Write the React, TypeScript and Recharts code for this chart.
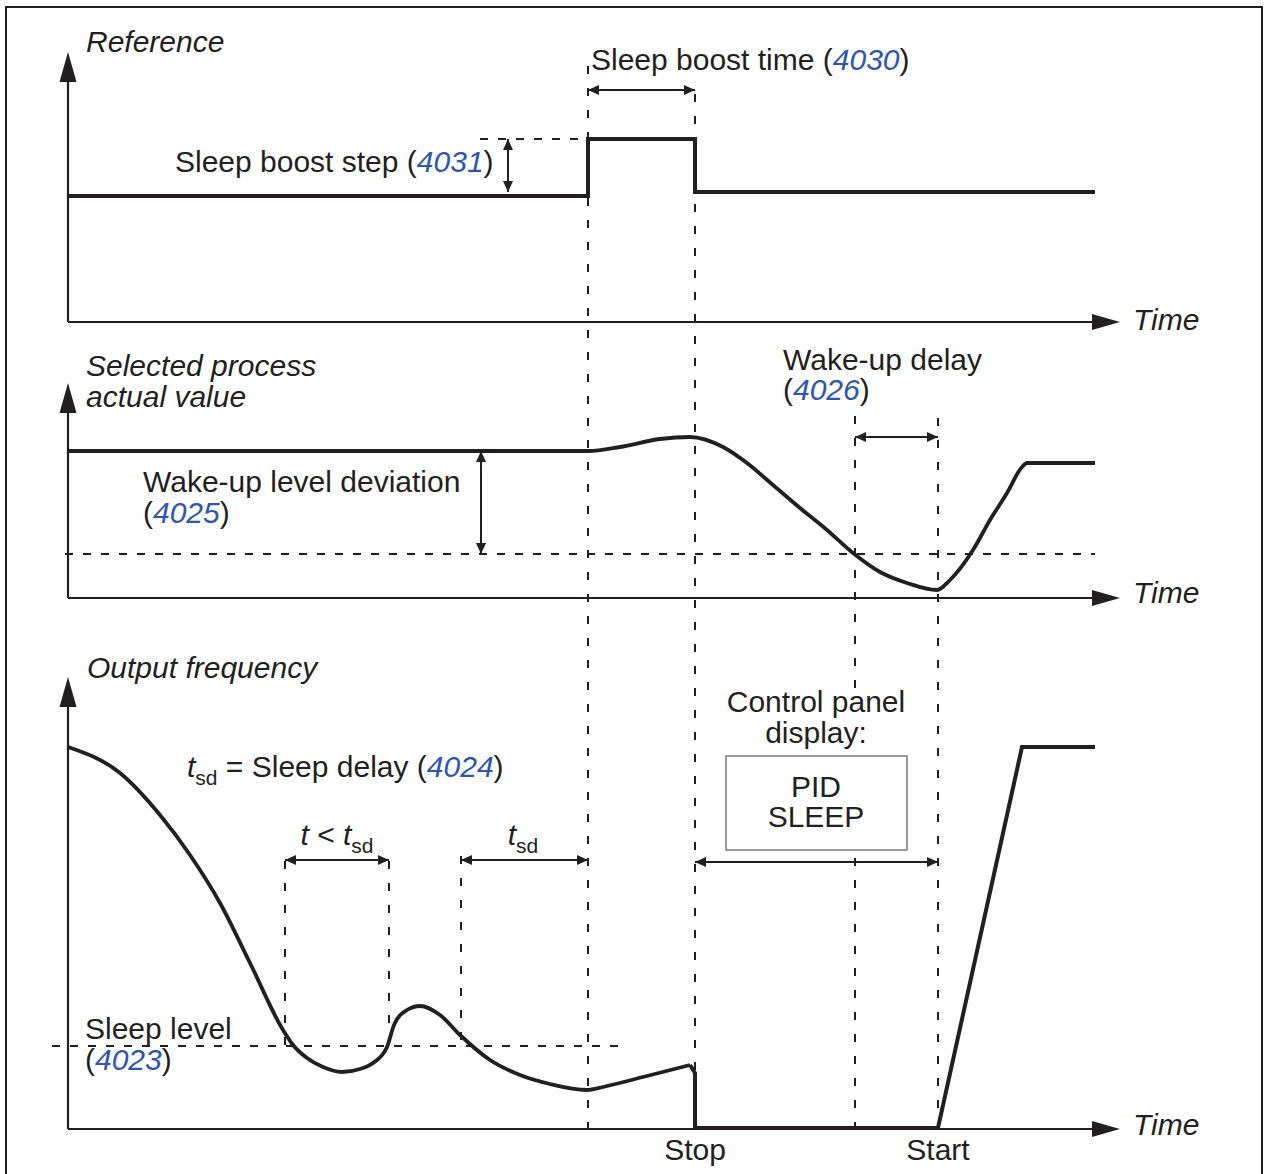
import React from "react";
import {
  ComposedChart,
  Line,
  XAxis,
  YAxis,
  ReferenceLine,
  ReferenceDot,
  ReferenceArea,
} from "recharts";

const INK = "#231f20";
const BLUE = "#2d56b2";
const FONT = "'Liberation Sans', Arial, Helvetica, sans-serif";
const FS = 30;

// time runs from 0 at the vertical axes to the Time arrow tips (~105)
// each panel value is a height above that panel's own time axis

const referenceSignal = [
  { t: 0, v: 12.6 },
  { t: 52, v: 12.6 },
  { t: 52, v: 18.3 },
  { t: 62.7, v: 18.3 },
  { t: 62.7, v: 13.0 },
  { t: 102.7, v: 13.0 },
];

const processSignal = [
  { t: 0, v: 14.7 },
  { t: 52, v: 14.7 },
  { t: 55.2, v: 15.1 },
  { t: 59.2, v: 15.9 },
  { t: 62.2, v: 16.1 },
  { t: 65.5, v: 15.1 },
  { t: 67.9, v: 13.5 },
  { t: 70.5, v: 11.3 },
  { t: 73.2, v: 9.0 },
  { t: 75.9, v: 6.8 },
  { t: 78.5, v: 4.5 },
  { t: 81.2, v: 2.6 },
  { t: 83.9, v: 1.5 },
  { t: 86.9, v: 0.8 },
  { t: 88.2, v: 1.8 },
  { t: 90.5, v: 4.8 },
  { t: 92.2, v: 7.8 },
  { t: 93.9, v: 10.5 },
  { t: 95.4, v: 13.1 },
  { t: 95.9, v: 13.5 },
  { t: 102.7, v: 13.5 },
];

const outputFalling = [
  { t: 0, v: 38.2 },
  { t: 5.2, v: 35.6 },
  { t: 9.2, v: 31.4 },
  { t: 12.2, v: 27.4 },
  { t: 15.2, v: 22.6 },
  { t: 18.2, v: 16.6 },
  { t: 21.5, v: 9.9 },
  { t: 22.5, v: 8.4 },
  { t: 23.9, v: 7.1 },
  { t: 25.5, v: 6.2 },
  { t: 27.4, v: 5.7 },
  { t: 29.2, v: 6.0 },
  { t: 30.5, v: 6.6 },
  { t: 31.9, v: 8.2 },
  { t: 32.6, v: 10.4 },
  { t: 33.9, v: 11.9 },
  { t: 35.2, v: 12.3 },
  { t: 37.2, v: 11.4 },
  { t: 39.2, v: 9.4 },
  { t: 42.2, v: 6.9 },
  { t: 45.2, v: 5.4 },
  { t: 48.2, v: 4.5 },
  { t: 51.9, v: 3.9 },
  { t: 53.5, v: 4.2 },
  { t: 57.5, v: 5.2 },
  { t: 62.2, v: 6.4 },
];

const outputStopStart = [
  { t: 62.2, v: 6.4 },
  { t: 62.7, v: 5.6 },
  { t: 62.7, v: 0.1 },
  { t: 87.0, v: 0.1 },
  { t: 95.4, v: 38.2 },
  { t: 102.7, v: 38.2 },
];

// event times
const boostStart = 52;
const stopTime = 62.7;
const wakeCross = 78.7;
const startTime = 87.0;
const shortRunStart = 21.7;
const shortRunEnd = 32.1;
const sleepDelayStart = 39.3;

// levels (panel relative)
const boostLevel = 18.3;
const afterBoostLevel = 13.0;
const processLevel = 14.7;
const wakeUpLevel = 4.4;
const sleepLevel = 8.3;

const PANEL = { reference: 85.2, process: 57.6, output: 4.5 };
const AXIS_HEIGHT = { reference: 27.0, process: 21.5, output: 45.2 };
const TIME_END = 105.2;

const lift = (s: { t: number; v: number }[], base: number) =>
  s.map((p) => ({ t: p.t, v: p.v + base }));

type Dir = "up" | "down" | "left" | "right";

const head = (dir: Dir, len: number, half: number) => (p: any) => {
  const { cx, cy } = p;
  let pts = "";
  if (dir === "right") pts = `${cx},${cy} ${cx - len},${cy - half} ${cx - len},${cy + half}`;
  if (dir === "left") pts = `${cx},${cy} ${cx + len},${cy - half} ${cx + len},${cy + half}`;
  if (dir === "up") pts = `${cx},${cy} ${cx - half},${cy + len} ${cx + half},${cy + len}`;
  if (dir === "down") pts = `${cx},${cy} ${cx - half},${cy - len} ${cx + half},${cy - len}`;
  return <polygon points={pts} fill={INK} stroke="none" />;
};

const textShape =
  (node: React.ReactNode, anchor: "start" | "middle" = "start") =>
  (p: any) =>
    (
      <text
        x={p.cx}
        y={p.cy}
        textAnchor={anchor}
        fontFamily={FONT}
        fontSize={FS}
        fill={INK}
      >
        {node}
      </text>
    );

const num = (s: string) => (
  <tspan fill={BLUE} fontStyle="italic">
    {s}
  </tspan>
);

const sub = (s: string) => (
  <tspan fontSize={21} dy={8}>
    {s}
  </tspan>
);

const labels: { t: number; v: number; anchor?: "start" | "middle"; node: React.ReactNode }[] = [
  { t: 1.8, v: 112.2, node: <tspan fontStyle="italic">Reference</tspan> },
  { t: 52.3, v: 110.4, node: <>Sleep boost time ({num("4030")})</> },
  { t: 10.7, v: 100.2, node: <>Sleep boost step ({num("4031")})</> },
  { t: 106.5, v: 84.4, node: <tspan fontStyle="italic">Time</tspan> },
  { t: 1.8, v: 79.8, node: <tspan fontStyle="italic">Selected process</tspan> },
  { t: 1.8, v: 76.7, node: <tspan fontStyle="italic">actual value</tspan> },
  { t: 7.5, v: 68.2, node: <>Wake-up level deviation</> },
  { t: 7.5, v: 65.1, node: <>({num("4025")})</> },
  { t: 71.5, v: 80.4, node: <>Wake-up delay</> },
  { t: 71.5, v: 77.4, node: <>({num("4026")})</> },
  { t: 106.5, v: 57.1, node: <tspan fontStyle="italic">Time</tspan> },
  { t: 1.9, v: 49.6, node: <tspan fontStyle="italic">Output frequency</tspan> },
  {
    t: 11.9,
    v: 39.7,
    node: (
      <>
        <tspan fontStyle="italic">t</tspan>
        {sub("sd")}
        <tspan dy={-8}> = Sleep delay (</tspan>
        {num("4024")})
      </>
    ),
  },
  {
    t: 26.9,
    v: 32.9,
    anchor: "middle",
    node: (
      <>
        <tspan fontStyle="italic">t</tspan> &lt; <tspan fontStyle="italic">t</tspan>
        {sub("sd")}
      </>
    ),
  },
  {
    t: 45.5,
    v: 32.9,
    anchor: "middle",
    node: (
      <>
        <tspan fontStyle="italic">t</tspan>
        {sub("sd")}
      </>
    ),
  },
  { t: 74.8, v: 46.2, anchor: "middle", node: <>Control panel</> },
  { t: 74.8, v: 43.1, anchor: "middle", node: <>display:</> },
  { t: 74.8, v: 37.7, anchor: "middle", node: <>PID</> },
  { t: 74.8, v: 34.7, anchor: "middle", node: <>SLEEP</> },
  { t: 1.7, v: 13.5, node: <>Sleep level</> },
  { t: 1.7, v: 10.4, node: <>({num("4023")})</> },
  { t: 62.7, v: 1.4, anchor: "middle", node: <>Stop</> },
  { t: 87.0, v: 1.4, anchor: "middle", node: <>Start</> },
  { t: 106.5, v: 3.9, node: <tspan fontStyle="italic">Time</tspan> },
];

// vertical dashed guides [t, from, to] in chart units
const guides: [number, number, number][] = [
  [boostStart, 4.4, 111.2],
  [stopTime, 10.4, 109.2],
  [wakeCross, 48.6, 76.4],
  [wakeCross, 4.4, 32.4],
  [startTime, 4.4, 76.4],
  [shortRunStart, 12.9, 32.6],
  [shortRunEnd, 12.9, 32.6],
  [sleepDelayStart, 13.4, 32.4],
];

// horizontal dashed levels [from, to, level]
const levels: [number, number, number][] = [
  [41.2, boostStart, PANEL.reference + boostLevel],
  [-0.3, 102.7, PANEL.process + wakeUpLevel],
  [-1.6, 55.2, PANEL.output + sleepLevel],
];

// dimension arrows: horizontal [from, to, y] and vertical [t, from, to]
const hArrows: [number, number, number][] = [
  [boostStart, stopTime, 108.4],
  [wakeCross, startTime, 73.7],
  [shortRunStart, shortRunEnd, 31.4],
  [sleepDelayStart, boostStart, 31.4],
  [stopTime, startTime, 31.2],
];
const vArrows: [number, number, number][] = [
  [44, PANEL.reference + afterBoostLevel, PANEL.reference + boostLevel],
  [41.3, PANEL.process + wakeUpLevel, PANEL.process + processLevel],
];

export default function App() {
  const panels = [PANEL.reference, PANEL.process, PANEL.output];
  const heights = [AXIS_HEIGHT.reference, AXIS_HEIGHT.process, AXIS_HEIGHT.output];
  const dash = { stroke: INK, strokeWidth: 2, ifOverflow: "visible" as const };

  return (
    <div
      style={{
        position: "absolute",
        left: 0,
        top: 0,
        width: 1264,
        height: 1174,
        overflow: "hidden",
        background: "#fff",
      }}
    >
      <div
        style={{
          position: "absolute",
          left: 5,
          top: 6,
          width: 1254,
          height: 1200,
          border: `2px solid ${INK}`,
        }}
      />
      <div style={{ position: "absolute", left: 0, top: 0 }}>
        <ComposedChart width={1264} height={1174} margin={{ top: 0, right: 0, bottom: 0, left: 0 }}>
          <XAxis type="number" dataKey="t" domain={[-6.8, 119.6]} allowDataOverflow hide />
          <YAxis type="number" dataKey="v" domain={[0, 117.4]} allowDataOverflow hide />

          {guides.map(([t, a, b], i) => (
            <ReferenceLine
              key={`g${i}`}
              segment={[{ x: t, y: a }, { x: t, y: b }]}
              strokeDasharray="8 14"
              {...dash}
            />
          ))}
          {levels.map(([a, b, y], i) => (
            <ReferenceLine
              key={`l${i}`}
              segment={[{ x: a, y }, { x: b, y }]}
              strokeDasharray="8 10"
              {...dash}
            />
          ))}

          <ReferenceArea
            x1={65.8}
            x2={83.9}
            y1={32.4}
            y2={41.8}
            fill="#fff"
            fillOpacity={1}
            stroke="#7a7a7a"
            strokeWidth={1.5}
            ifOverflow="visible"
          />

          {panels.map((base, i) => (
            <ReferenceLine
              key={`xa${i}`}
              segment={[{ x: 0, y: base }, { x: TIME_END - 2, y: base }]}
              stroke={INK}
              strokeWidth={2.2}
              ifOverflow="visible"
            />
          ))}
          {panels.map((base, i) => (
            <ReferenceLine
              key={`ya${i}`}
              segment={[{ x: 0, y: base }, { x: 0, y: base + heights[i] - 2 }]}
              stroke={INK}
              strokeWidth={2.2}
              ifOverflow="visible"
            />
          ))}
          {panels.map((base, i) => (
            <ReferenceDot key={`xh${i}`} x={TIME_END} y={base} shape={head("right", 28, 8)} ifOverflow="visible" />
          ))}
          {panels.map((base, i) => (
            <ReferenceDot
              key={`yh${i}`}
              x={0}
              y={base + heights[i]}
              shape={head("up", 30, 8.5)}
              ifOverflow="visible"
            />
          ))}

          {hArrows.map(([a, b, y], i) => (
            <ReferenceLine
              key={`ha${i}`}
              segment={[{ x: a, y }, { x: b, y }]}
              stroke={INK}
              strokeWidth={2}
              ifOverflow="visible"
            />
          ))}
          {hArrows.map(([a, , y], i) => (
            <ReferenceDot key={`hal${i}`} x={a} y={y} shape={head("left", 11, 5)} ifOverflow="visible" />
          ))}
          {hArrows.map(([, b, y], i) => (
            <ReferenceDot key={`har${i}`} x={b} y={y} shape={head("right", 11, 5)} ifOverflow="visible" />
          ))}
          {vArrows.map(([t, a, b], i) => (
            <ReferenceLine
              key={`va${i}`}
              segment={[{ x: t, y: a }, { x: t, y: b }]}
              stroke={INK}
              strokeWidth={2}
              ifOverflow="visible"
            />
          ))}
          {vArrows.map(([t, a], i) => (
            <ReferenceDot key={`vad${i}`} x={t} y={a} shape={head("down", 11, 5)} ifOverflow="visible" />
          ))}
          {vArrows.map(([t, , b], i) => (
            <ReferenceDot key={`vau${i}`} x={t} y={b} shape={head("up", 11, 5)} ifOverflow="visible" />
          ))}

          <Line
            data={lift(referenceSignal, PANEL.reference)}
            dataKey="v"
            type="linear"
            stroke={INK}
            strokeWidth={4}
            dot={false}
            activeDot={false}
            isAnimationActive={false}
          />
          <Line
            data={lift(processSignal, PANEL.process)}
            dataKey="v"
            type="monotone"
            stroke={INK}
            strokeWidth={3.8}
            dot={false}
            activeDot={false}
            isAnimationActive={false}
          />
          <Line
            data={lift(outputFalling, PANEL.output)}
            dataKey="v"
            type="monotone"
            stroke={INK}
            strokeWidth={3.8}
            dot={false}
            activeDot={false}
            isAnimationActive={false}
          />
          <Line
            data={lift(outputStopStart, PANEL.output)}
            dataKey="v"
            type="linear"
            stroke={INK}
            strokeWidth={4}
            dot={false}
            activeDot={false}
            isAnimationActive={false}
          />

          {labels.map((l, i) => (
            <ReferenceDot
              key={`t${i}`}
              x={l.t}
              y={l.v}
              shape={textShape(l.node, l.anchor)}
              ifOverflow="visible"
            />
          ))}
        </ComposedChart>
      </div>
    </div>
  );
}
